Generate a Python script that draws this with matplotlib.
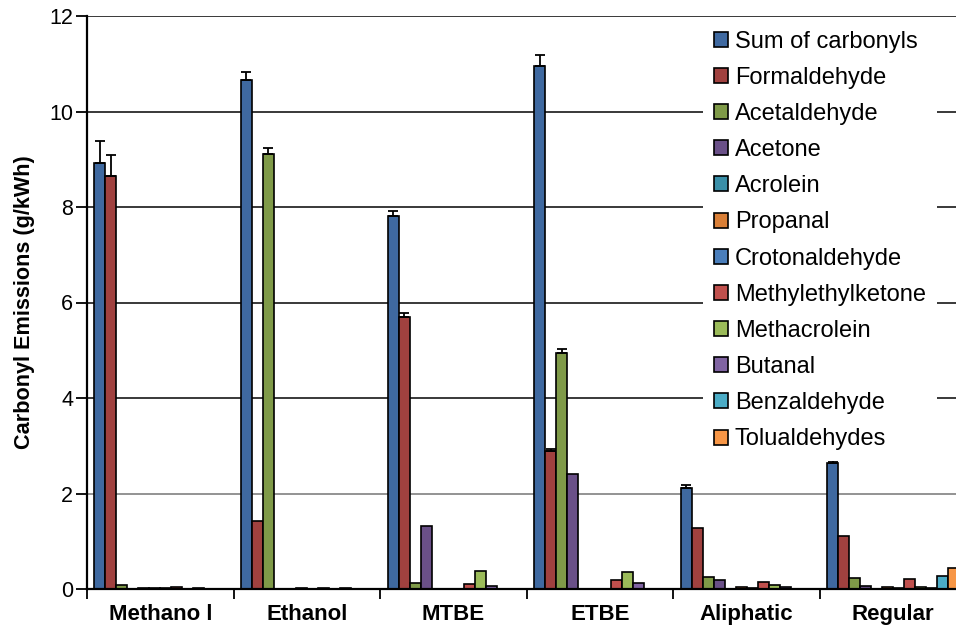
import numpy as np
import matplotlib
matplotlib.use("Agg")
import matplotlib.pyplot as plt

plt.rcParams['font.family'] = ['Liberation Sans', 'DejaVu Sans']

categories = ["Methano l", "Ethanol", "MTBE", "ETBE", "Aliphatic", "Regular"]

series_names = ["Sum of carbonyls", "Formaldehyde", "Acetaldehyde", "Acetone",
                "Acrolein", "Propanal", "Crotonaldehyde", "Methylethylketone",
                "Methacrolein", "Butanal", "Benzaldehyde", "Tolualdehydes"]

sum_carbonyls     = [8.92, 10.65, 7.81, 10.95, 2.12, 2.63]
formaldehyde      = [8.64, 1.43, 5.69, 2.88, 1.28, 1.10]
acetaldehyde      = [0.09, 9.12, 0.12, 4.95, 0.25, 0.23]
acetone           = [0.00, 0.00, 1.32, 2.41, 0.19, 0.06]
acrolein          = [0.02, 0.01, 0.00, 0.00, 0.01, 0.01]
propanal          = [0.02, 0.02, 0.01, 0.01, 0.04, 0.05]
crotonaldehyde    = [0.02, 0.01, 0.00, 0.00, 0.03, 0.02]
methylethylketone = [0.04, 0.03, 0.10, 0.19, 0.14, 0.20]
methacrolein      = [0.00, 0.00, 0.38, 0.36, 0.08, 0.05]
butanal           = [0.03, 0.02, 0.07, 0.13, 0.04, 0.02]
benzaldehyde      = [0.00, 0.00, 0.00, 0.00, 0.00, 0.28]
tolualdehydes     = [0.00, 0.00, 0.00, 0.00, 0.00, 0.44]

err_sum          = [0.47, 0.17, 0.11, 0.24, 0.06, 0.06]
err_formaldehyde = [0.45, 0.00, 0.10, 0.05, 0.00, 0.00]
err_acetaldehyde = [0.00, 0.12, 0.00, 0.07, 0.00, 0.00]

yticks = [0, 2, 4, 6, 8, 10, 12]

colors = ["#3F69A0", "#A0413F", "#7F9A48", "#6A5088", "#3A8FA8", "#D97F37",
          "#4A7EBB", "#C0504D", "#9BBB59", "#8064A2", "#4BACC6", "#F79646"]

values = [sum_carbonyls, formaldehyde, acetaldehyde, acetone, acrolein, propanal,
          crotonaldehyde, methylethylketone, methacrolein, butanal, benzaldehyde,
          tolualdehydes]
errors = {0: err_sum, 1: err_formaldehyde, 2: err_acetaldehyde}

W, H = 956, 630
fig = plt.figure(figsize=(W / 100, H / 100), dpi=100)
ax = fig.add_axes([87 / W, 1 - 589 / H, 1 - 87 / W, (589 - 16) / H])

x = np.arange(len(categories))
n = len(series_names)
bw = 0.075
offsets = (np.arange(n) - (n - 1) / 2) * bw

# gridlines
for t in yticks[1:]:
    col = "#8a8a8a" if t == 2 else "#2a2a2a"
    ax.axhline(t, color=col, lw=1.3, zorder=0)

for i in range(n):
    ax.bar(x + offsets[i], values[i], bw, color=colors[i], edgecolor="black",
           linewidth=1.2, label=series_names[i], zorder=2)
    if i in errors:
        e = np.array(errors[i])
        v = np.array(values[i])
        m = e > 0
        ax.errorbar((x + offsets[i])[m], v[m], yerr=[np.zeros(m.sum()), e[m]],
                    fmt="none", ecolor="black", elinewidth=1.3, capsize=3.5,
                    capthick=1.3, zorder=3)

ax.set_yticks(yticks)
ax.set_yticklabels([str(t) for t in yticks], fontsize=15.5)
ax.tick_params(axis="y", direction="out", length=8, width=1.3, pad=2)

ax.set_xticks(np.arange(len(categories) + 1) - 0.5)
ax.set_xticklabels([])
ax.tick_params(axis="x", which="major", direction="out", length=7, width=1.3)
ax.set_xticks(x, minor=True)
ax.set_xticklabels(categories, minor=True, fontsize=16, fontweight="bold")
ax.tick_params(axis="x", which="minor", length=0, pad=11)

ax.set_ylim(0, 12)
ax.set_xlim(-0.5, -0.5 + (W - 87) / 146.6)

for s in ["top", "right"]:
    ax.spines[s].set_visible(False)
ax.spines["left"].set_linewidth(1.6)
ax.spines["bottom"].set_linewidth(1.6)

ax.set_ylabel("Carbonyl Emissions (g/kWh)", fontsize=15.6, fontweight="bold", labelpad=10)

leg = ax.legend(loc="upper left", bbox_to_anchor=(703 / W, 1 - 20 / H),
                bbox_transform=fig.transFigure, fontsize=17, frameon=True,
                fancybox=False, framealpha=1, edgecolor="none", facecolor="white",
                handlelength=0.6, handleheight=0.6, handletextpad=0.3,
                labelspacing=0.6, borderpad=0.45, borderaxespad=0)
leg.set_zorder(5)

fig.savefig("out.png", dpi=100)
